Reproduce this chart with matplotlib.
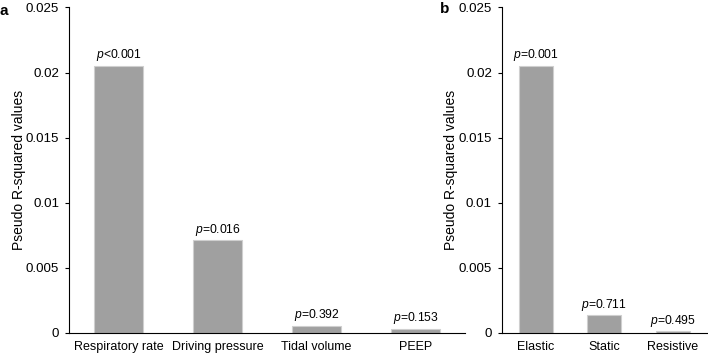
import matplotlib.pyplot as plt

plt.rcParams["font.family"] = ["Liberation Sans", "DejaVu Sans"]
plt.rcParams["mathtext.fontset"] = "custom"
plt.rcParams["mathtext.rm"] = "Liberation Sans"
plt.rcParams["mathtext.it"] = "Liberation Sans:italic"

# panel a
cats_a = ["Respiratory rate", "Driving pressure", "Tidal volume", "PEEP"]
vals_a = [0.0205, 0.0071, 0.00052, 0.00028]
pvals_a = ["<0.001", "=0.016", "=0.392", "=0.153"]

# panel b
cats_b = ["Elastic", "Static", "Resistive"]
vals_b = [0.0205, 0.00133, 0.0001]
pvals_b = ["=0.001", "=0.711", "=0.495"]

yticks = [0, 0.005, 0.01, 0.015, 0.02, 0.025]
ytick_labels = ["0", "0.005", "0.01", "0.015", "0.02", "0.025"]

BAR = "#a0a0a0"
EDGE = "#cfcfcf"

fig = plt.figure(figsize=(7.08, 3.55), dpi=100)
ax_a = fig.add_axes([0.0975, 0.0628, 0.5593, 0.9162])
ax_b = fig.add_axes([0.7086, 0.0628, 0.2900, 0.9162])


def draw(ax, cats, vals, pvals):
    x = list(range(len(cats)))
    ax.bar(x, vals, width=0.5, color=BAR, edgecolor=EDGE, linewidth=0.8)
    for xi, v, p in zip(x, vals, pvals):
        ax.annotate(f"$\\it{{p}}${p}", (xi, v), xytext=(0, 2), textcoords="offset points",
                    ha="center", va="bottom", fontsize=8.7)
    ax.set_xlim(-0.5, len(cats) - 0.5)
    ax.set_ylim(0, 0.025)
    ax.set_xticks(x)
    ax.set_xticklabels(cats, fontsize=9)
    ax.tick_params(axis="x", length=0, pad=6)
    ax.set_yticks(yticks)
    ax.set_yticklabels(ytick_labels, fontsize=9.6)
    ax.tick_params(axis="y", direction="out", length=3, width=0.8, pad=4)
    for s in ["top", "right"]:
        ax.spines[s].set_visible(False)
    ax.spines["left"].set_linewidth(0.8)
    ax.spines["bottom"].set_linewidth(0.8)
    ax.set_ylabel("Pseudo R-squared values", fontsize=10, labelpad=0)


draw(ax_a, cats_a, vals_a, pvals_a)
draw(ax_b, cats_b, vals_b, pvals_b)

fig.text(0.0, 0.99, "a", fontsize=11, fontweight="bold", va="top", ha="left")
fig.text(0.621, 0.995, "b", fontsize=11, fontweight="bold", va="top", ha="left")

fig.savefig("out.png", dpi=100)
